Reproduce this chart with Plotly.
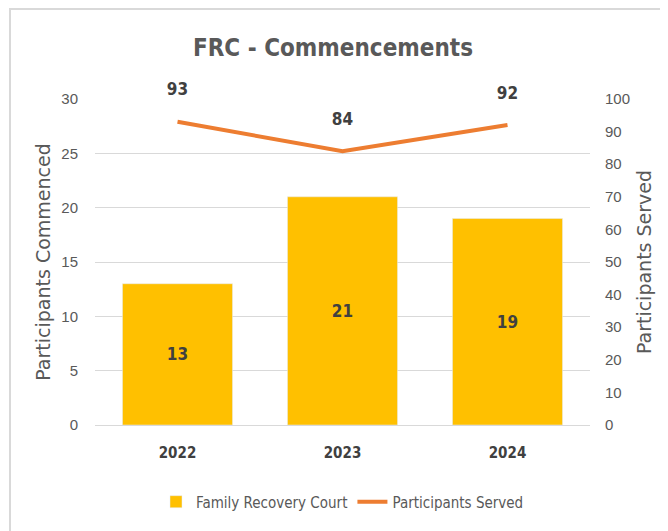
import plotly.graph_objects as go

# chart data
years = ['2022', '2023', '2024']
commenced = [13, 21, 19]
served = [93, 84, 92]

NARROW = 'Liberation Sans Narrow, Arial Narrow, DejaVu Sans Condensed, sans-serif'
WIDE = 'DejaVu Sans, Verdana, sans-serif'
GREY = '#595959'
DARK = '#404040'

# the page body has an 8px margin, so positions below are shifted up/left by 8px
fig = go.Figure()
fig.add_trace(go.Bar(
    x=years, y=commenced, name='Family Recovery Court',
    marker_color='#FFC000', width=0.667,
    text=commenced, textposition='inside', insidetextanchor='middle',
    textfont=dict(family=NARROW, size=17, color=DARK, weight='bold'),
))
fig.add_trace(go.Scatter(
    x=years, y=served, name='Participants Served', yaxis='y2',
    mode='lines+text', line=dict(color='#ED7D31', width=4),
    text=served, texttemplate='%{y}<br> ', textposition='top center',
    textfont=dict(family=NARROW, size=17, color=DARK, weight='bold'),
    cliponaxis=False,
))

fig.update_layout(
    width=668, height=531,
    paper_bgcolor='white', plot_bgcolor='white',
    margin=dict(l=87, r=86, t=91, b=114),
    title=dict(text='<b>FRC - Commencements</b>', x=(333 - 8) / 668, xanchor='center',
               y=1 - 40 / 531, yanchor='middle',
               font=dict(family=NARROW, size=24, color=GREY)),
    xaxis=dict(tickfont=dict(family=NARROW, size=15, color=DARK, weight='bold'),
               showline=True, linecolor='#D9D9D9', ticks='', showgrid=False,
               ticklabelstandoff=14, automargin=False),
    yaxis=dict(range=[0, 30], dtick=5, showgrid=True, gridcolor='#D9D9D9',
               zeroline=False, ticks='', automargin=False, ticklabelstandoff=16,
               tickfont=dict(family='Liberation Sans, Arial', size=15, color=GREY),
               title=dict(text='Participants Commenced', standoff=5,
                          font=dict(family=WIDE, size=19, color=GREY))),
    yaxis2=dict(range=[0, 100], dtick=10, overlaying='y', side='right',
                showgrid=False, zeroline=False, ticks='', automargin=False,
                ticklabelstandoff=14,
                tickfont=dict(family='Liberation Sans, Arial', size=15, color=GREY),
                title=dict(text='Participants Served', standoff=8,
                           font=dict(family=WIDE, size=19, color=GREY))),
    legend=dict(orientation='h', x=0.5, xanchor='center', y=-0.236, yanchor='middle',
                font=dict(family=NARROW, size=15, color=GREY)),
    shapes=[dict(type='rect', xref='paper', yref='paper',
                 x0=-0.1717, x1=1.5, y0=-1.0, y1=1.276,
                 line=dict(color='#D9D9D9', width=2), layer='below')],
)

fig.write_html('out.html')
